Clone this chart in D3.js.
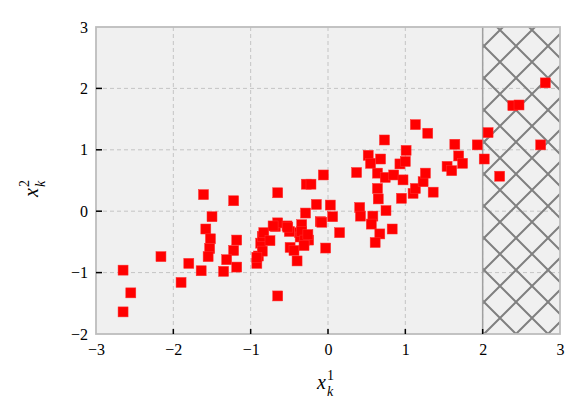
<!DOCTYPE html>
<html>
<head>
<meta charset="utf-8">
<script src="https://cdn.jsdelivr.net/npm/d3@7"></script>
<style>
  body { margin: 0; background: #fff; }
</style>
</head>
<body>
<div id="chart"></div>
<script>
// Data
var xValues = [
  -2.65, -2.55, -2.65, -2.16, -1.90, -1.80, -1.64, -1.61, -1.50, -1.58,
  -1.52, -1.53, -1.55, -1.22, -1.18, -1.22, -1.31, -1.35, -1.18, -0.65,
  -0.65, -0.92, -0.90, -0.87, -0.85, -0.83, -0.75, -0.68, -0.65, -0.53,
  -0.50, -0.49, -0.44, -0.40, -0.37, -0.34, -0.29, -0.28, -0.22, -0.36,
  -0.25, -0.15, -0.10, -0.06, -0.03, 0.03, 0.06, -0.08, 0.15, 0.37,
  0.41, 0.42, 0.52, 0.55, 0.68, 0.73, 0.64, 0.74, 0.64, 0.65,
  0.58, 0.56, 0.75, 0.83, 0.67, 0.61, 0.85, 0.93, 1.00, 1.01,
  0.97, 0.95, 1.10, 1.13, 1.23, 1.26, 1.36, 1.13, 1.29, 1.54,
  1.60, 1.64, 1.69, 1.74, 1.93, 2.07, 2.02, 2.22, 2.39, 2.47,
  2.81, 2.75, -0.34, -0.30, -0.26, -0.31, -0.52, -0.71, -0.85, -0.92
];
var yValues = [
  -0.96, -1.33, -1.64, -0.74, -1.16, -0.85, -0.97, 0.27, -0.09, -0.29,
  -0.45, -0.61, -0.74, 0.17, -0.47, -0.64, -0.79, -0.98, -0.91, 0.30,
  -1.38, -0.85, -0.73, -0.52, -0.41, -0.35, -0.48, -0.25, -0.19, -0.24,
  -0.33, -0.59, -0.64, -0.81, -0.35, -0.22, -0.03, 0.44, 0.44, -0.42,
  -0.47, 0.11, -0.17, 0.59, -0.60, 0.10, -0.09, -0.18, -0.35, 0.63,
  0.06, -0.08, 0.91, 0.78, 0.85, 1.16, 0.62, 0.55, 0.37, 0.20,
  -0.08, -0.21, 0.01, -0.29, -0.37, -0.51, 0.59, 0.77, 0.81, 0.99,
  0.51, 0.21, 0.29, 0.37, 0.48, 0.62, 0.31, 1.41, 1.27, 0.73,
  0.66, 1.09, 0.90, 0.78, 1.08, 1.28, 0.85, 0.57, 1.72, 1.73,
  2.09, 1.08, -0.33, -0.47, -0.38, -0.56, -0.26, -0.24, -0.65, -0.75
];
var xTicks = [-3, -2, -1, 0, 1, 2, 3];
var yTicks = [-2, -1, 0, 1, 2, 3];
var hatchRange = [2, 3];

var points = xValues.map(function(x, i) { return {x: x, y: yValues[i]}; });

var serif = "Liberation Serif";

// Set up the chart
var svgWidth = 586;
var svgHeight = 419;
var margin = {top: 27, right: 26, bottom: 85, left: 96};
var width = svgWidth - margin.left - margin.right;
var height = svgHeight - margin.top - margin.bottom;

var svg = d3.select("#chart")
  .append("svg")
  .attr("width", svgWidth)
  .attr("height", svgHeight);

var chartGroup = svg.append("g")
  .attr("transform", `translate(${margin.left}, ${margin.top})`);

var xScale = d3.scaleLinear().domain([-3, 3]).range([0, width]);
var yScale = d3.scaleLinear().domain([-2, 3]).range([height, 0]);

// hatch pattern (crossed diagonals)
var period = 32;
var pat = svg.append("defs").append("pattern")
  .attr("id", "hatch")
  .attr("patternUnits", "userSpaceOnUse")
  .attr("width", period)
  .attr("height", period)
  .attr("x", 500 - margin.left - period / 2)
  .attr("y", 30 - margin.top - period / 2);
pat.append("path")
  .attr("d", `M-2,-2L${period + 2},${period + 2}M-2,${period + 2}L${period + 2},-2`)
  .attr("stroke", "#808080")
  .attr("stroke-width", 2)
  .attr("fill", "none");

// Background
chartGroup.append("rect")
  .attr("width", width)
  .attr("height", height)
  .attr("fill", "#f0f0f0");

// Grid
chartGroup.append("g").selectAll("line")
  .data(xTicks.slice(1, -1))
  .enter().append("line")
  .attr("x1", d => xScale(d)).attr("x2", d => xScale(d))
  .attr("y1", 0).attr("y2", height)
  .attr("stroke", "#c4c4c4").attr("stroke-width", 1)
  .attr("stroke-dasharray", "4,3");

chartGroup.append("g").selectAll("line")
  .data(yTicks.slice(1, -1))
  .enter().append("line")
  .attr("y1", d => yScale(d)).attr("y2", d => yScale(d))
  .attr("x1", 0).attr("x2", width)
  .attr("stroke", "#c4c4c4").attr("stroke-width", 1)
  .attr("stroke-dasharray", "4,3");

// Hatched region
chartGroup.append("rect")
  .attr("x", xScale(hatchRange[0]))
  .attr("y", 0)
  .attr("width", xScale(hatchRange[1]) - xScale(hatchRange[0]))
  .attr("height", height)
  .attr("fill", "url(#hatch)")
  .attr("stroke", "none");
chartGroup.append("line")
  .attr("x1", xScale(hatchRange[0])).attr("x2", xScale(hatchRange[0]))
  .attr("y1", 0).attr("y2", height)
  .attr("stroke", "#a0a0a0").attr("stroke-width", 1.5);

// Points
var size = 10;
chartGroup.append("g").selectAll("rect")
  .data(points)
  .enter().append("rect")
  .attr("x", d => xScale(d.x) - size / 2)
  .attr("y", d => yScale(d.y) - size / 2)
  .attr("width", size)
  .attr("height", size)
  .attr("fill", "#ff0000")
  .attr("stroke", "#ff3030")
  .attr("stroke-width", 0.5);

// Frame
chartGroup.append("rect")
  .attr("width", width)
  .attr("height", height)
  .attr("fill", "none")
  .attr("stroke", "#bdbdbd")
  .attr("stroke-width", 1.8);

// Axes
var fmt = d => d < 0 ? "\u2212" + Math.abs(d) : String(d);
var bottomAxis = d3.axisBottom(xScale).tickValues(xTicks).tickFormat(fmt).tickSize(0).tickPadding(10);
var leftAxis = d3.axisLeft(yScale).tickValues(yTicks).tickFormat(fmt).tickSize(0).tickPadding(8);

var gx = chartGroup.append("g")
  .attr("transform", `translate(0, ${height})`)
  .call(bottomAxis);
var gy = chartGroup.append("g").call(leftAxis);
[gx, gy].forEach(function(g) {
  g.select(".domain").remove();
  g.attr("font-family", serif).attr("font-size", 16);
  g.selectAll("text").attr("fill", "#000");
});

// inward ticks
chartGroup.append("g").selectAll("line")
  .data(xTicks.slice(1, -1))
  .enter().append("line")
  .attr("x1", d => xScale(d)).attr("x2", d => xScale(d))
  .attr("y1", height).attr("y2", height - 5)
  .attr("stroke", "#000").attr("stroke-width", 1.5);
chartGroup.append("g").selectAll("line")
  .data(yTicks.slice(1, -1))
  .enter().append("line")
  .attr("y1", d => yScale(d)).attr("y2", d => yScale(d))
  .attr("x1", 0).attr("x2", 6)
  .attr("stroke", "#000").attr("stroke-width", 1.5);

// Axis labels
function label(g, sup) {
  g.attr("font-family", serif);
  g.append("text").attr("x", -7).attr("y", 0)
    .attr("font-size", 20).attr("font-style", "italic").text("x");
  g.append("text").attr("x", 3).attr("y", -9)
    .attr("font-size", 14).text(sup);
  g.append("text").attr("x", 3).attr("y", 7)
    .attr("font-size", 14).attr("font-style", "italic").text("k");
}
label(svg.append("g").attr("transform", `translate(${margin.left + width / 2 - 4}, 389)`), "1");
label(svg.append("g").attr("transform", `translate(38, 190) rotate(-90)`), "2");
</script>
</body>
</html>
